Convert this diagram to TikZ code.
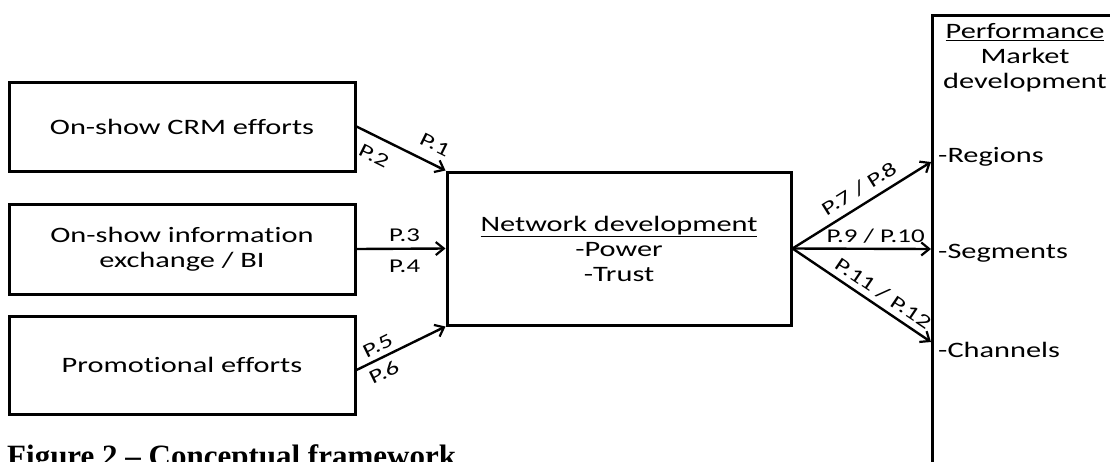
\documentclass[tikz,border=0pt]{standalone}
\usepackage{fontspec}
\setmainfont{Carlito}[FakeStretch=1.38, Ligatures=NoCommon]
\newfontfamily\captionfont{Liberation Serif}
\usetikzlibrary{arrows.meta}

\begin{document}
\begin{tikzpicture}[x=1pt,y=-1pt,
    framebox/.style={draw, line width=3pt, inner sep=0pt, align=center,
      font=\fontsize{22}{25}\selectfont},
    plain/.style={inner sep=0pt, align=center, font=\fontsize{22}{25}\selectfont},
    link/.style={line width=2.4pt, -{Straight Barb[length=8pt,width=13pt,line width=2.2pt]}},
    plabel/.style={sloped, inner sep=0pt, font=\fontsize{19.5}{21}\selectfont}]
  \useasboundingbox (0,0) rectangle (1110,461);
  \clip (0,0) rectangle (1110,461);

  % input boxes
  \node[framebox, minimum width=346pt, minimum height=89pt] (crm) at (182,126.5) {On-show CRM efforts};
  \node[framebox, minimum width=346pt, minimum height=90pt] (info) at (182,249) {On-show information\\exchange / BI};
  \node[framebox, minimum width=346pt, minimum height=98pt] (promo) at (182,365) {Promotional efforts};

  % mediator
  \node[framebox, minimum width=344pt, minimum height=153pt] (net) at (619,248.5)
    {\underline{Network development}\\-Power\\-Trust};

  % outcome box, cut by the page
  \node[draw, line width=3pt, inner sep=0pt, minimum width=260pt, minimum height=520pt,
    anchor=north west] (perf) at (931,14) {};
  \node[plain, anchor=north] (perfhead) at (1025,23) {\underline{Performance}\\Market\\development};
  \node[plain, anchor=west] (regions) at (938,157) {-Regions};
  \node[plain, anchor=west] (segments) at (938,253) {-Segments};
  \node[plain, anchor=west] (channels) at (938,350) {-Channels};
  \coordinate (regin) at (931,162);
  \coordinate (segin) at (931,249);
  \coordinate (chain) at (931,342);

  % propositions
  \draw[link] (crm.east) -- node[plabel, above=11pt, pos=.79] {P.1}
    node[plabel, below=11pt, pos=.29] {P.2} (net.north west);
  \draw[link] (info.east) -- node[plabel, above=6pt, pos=.54] {P.3}
    node[plabel, below=10pt, pos=.54] {P.4} (net.west);
  \draw[link] ([yshift=-5pt]promo.east) -- node[plabel, above=5pt, pos=.30] {P.5}
    node[plabel, below=6pt, pos=.24] {P.6} (net.south west);
  \draw[link] (net.east) -- node[plabel, above=7pt, pos=.54] {P.7 / P.8} (regin);
  \draw[link] (net.east) -- node[plabel, above=4pt, pos=.60] {P.9 / P.10} (segin);
  \draw[link] (net.east) -- node[plabel, above=5pt, pos=.60] {P.11 / P.12} (chain);

  \node[inner sep=0pt, anchor=base west, font=\captionfont\bfseries\fontsize{31}{34}\selectfont]
    (caption) at (7,466) {Figure 2 \textendash{} Conceptual framework};
\end{tikzpicture}
\end{document}
